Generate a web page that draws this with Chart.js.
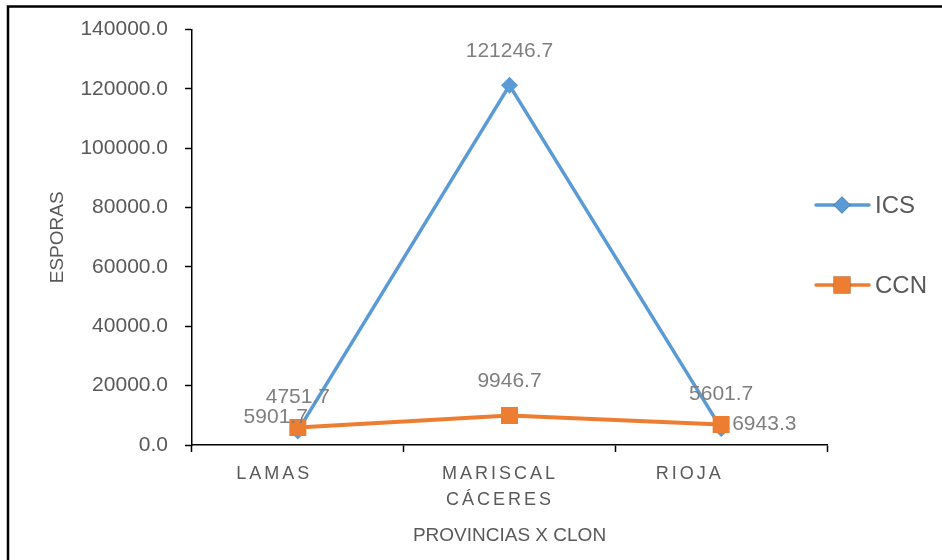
<!DOCTYPE html>
<html>
<head>
<meta charset="utf-8">
<script src="https://cdn.jsdelivr.net/npm/chart.js@4.4.1/dist/chart.umd.min.js"></script>
<style>
  html, body { margin: 0; padding: 0; background: #ffffff; }
  #wrap { width: 942px; height: 560px; position: relative; }
</style>
</head>
<body>
<div id="wrap"><canvas id="chart" width="942" height="560"></canvas></div>
<script>
// Spore counts per province and clone
const categories = ['LAMAS', 'MARISCAL CÁCERES', 'RIOJA'];
const icsValues = [4751.7, 121246.7, 5601.7];
const ccnValues = [5901.7, 9946.7, 6943.3];
const yMin = 0;
const yMax = 140000;
const yStep = 20000;
const seriesNames = ['ICS', 'CCN'];

// Styling
const FONT = '"Liberation Sans", Arial, sans-serif';
const TEXT_GREY = '#595959';
const LABEL_GREY = '#7f7f7f';
const BLUE = '#5b9bd5';
const ORANGE = '#ed7d31';

// where each value label sits relative to its point
const labelPlacement = [
  ['above', 'above', 'above'],
  ['left', 'above', 'right']
];
// horizontal nudge of each category caption relative to its category centre
const captionShift = [-25, -11, -33];

const framePlugin = {
  id: 'frame',
  afterDraw(chart) {
    const ctx = chart.ctx;
    ctx.save();
    ctx.strokeStyle = '#000000';
    ctx.lineWidth = 2.5;
    ctx.beginPath();
    ctx.moveTo(8, chart.height + 5);
    ctx.lineTo(8, 6.5);
    ctx.lineTo(chart.width + 5, 6.5);
    ctx.stroke();
    ctx.restore();
  }
};

const captionPlugin = {
  id: 'captions',
  afterDraw(chart) {
    const ctx = chart.ctx;
    const xs = chart.scales.x;
    ctx.save();
    ctx.font = '18px ' + FONT;
    ctx.fillStyle = TEXT_GREY;
    ctx.textBaseline = 'middle';
    ctx.textAlign = 'left';
    const spacing = 3;
    ctx.letterSpacing = spacing + 'px';
    categories.forEach((cat, i) => {
      const lines = cat.split(' ');
      const cx = xs.getPixelForValue(i) + captionShift[i];
      lines.forEach((line, j) => {
        const w = ctx.measureText(line).width - spacing;
        ctx.fillText(line, cx - w / 2, 474 + j * 26);
      });
    });
    ctx.restore();
  }
};

const valueLabelPlugin = {
  id: 'valueLabels',
  afterDatasetsDraw(chart) {
    const ctx = chart.ctx;
    ctx.save();
    ctx.font = '21px ' + FONT;
    ctx.fillStyle = LABEL_GREY;
    chart.data.datasets.forEach((ds, di) => {
      const meta = chart.getDatasetMeta(di);
      meta.data.forEach((pt, i) => {
        const txt = ds.data[i].toFixed(1);
        const pos = labelPlacement[di][i];
        if (pos === 'above') {
          ctx.textAlign = 'center';
          ctx.textBaseline = 'middle';
          ctx.fillText(txt, pt.x, pt.y - 34);
        } else if (pos === 'left') {
          ctx.textAlign = 'right';
          ctx.textBaseline = 'middle';
          ctx.fillText(txt, pt.x + 10, pt.y - 10);
        } else {
          ctx.textAlign = 'left';
          ctx.textBaseline = 'middle';
          ctx.fillText(txt, pt.x + 11, pt.y);
        }
      });
    });
    ctx.restore();
  }
};

const legendPlugin = {
  id: 'sideLegend',
  afterDraw(chart) {
    const ctx = chart.ctx;
    const rows = [205, 285];
    ctx.save();
    chart.data.datasets.forEach((ds, di) => {
      const y = rows[di];
      ctx.strokeStyle = ds.borderColor;
      ctx.lineWidth = 3.5;
      ctx.lineCap = 'round';
      ctx.beginPath();
      ctx.moveTo(816, y);
      ctx.lineTo(869, y);
      ctx.stroke();
      Chart.helpers.drawPoint(ctx, {
        pointStyle: ds.pointStyle,
        radius: ds.pointRadius,
        borderWidth: 0
      }, 842, y);
      ctx.fillStyle = ds.backgroundColor;
      ctx.fill();
      ctx.fillStyle = TEXT_GREY;
      ctx.font = '24px ' + FONT;
      ctx.textAlign = 'left';
      ctx.textBaseline = 'middle';
      ctx.fillText(ds.label, 875, y + 1);
    });
    ctx.restore();
  }
};

new Chart(document.getElementById('chart'), {
  type: 'line',
  data: {
    labels: categories,
    datasets: [
      {
        label: seriesNames[0],
        data: icsValues,
        borderColor: BLUE,
        backgroundColor: BLUE,
        borderWidth: 3.5,
        pointStyle: 'rectRot',
        pointRadius: 8.5,
        pointBorderWidth: 0,
        pointBackgroundColor: BLUE,
        tension: 0,
        order: 1
      },
      {
        label: seriesNames[1],
        data: ccnValues,
        borderColor: ORANGE,
        backgroundColor: ORANGE,
        borderWidth: 4,
        pointStyle: 'rect',
        pointRadius: 12,
        pointBorderWidth: 0,
        pointBackgroundColor: ORANGE,
        tension: 0,
        order: 0
      }
    ]
  },
  options: {
    responsive: false,
    animation: false,
    devicePixelRatio: 1,
    layout: { padding: { left: 0, top: 26, right: 115, bottom: 0 } },
    plugins: {
      legend: { display: false },
      tooltip: { enabled: false }
    },
    scales: {
      x: {
        offset: true,
        grid: {
          offset: true,
          drawOnChartArea: false,
          drawTicks: true,
          tickLength: 7,
          tickWidth: 1.5,
          tickColor: '#000000'
        },
        border: { display: true, color: '#000000', width: 1.5 },
        ticks: { display: false },
        title: {
          display: true,
          text: 'PROVINCIAS X CLON',
          color: TEXT_GREY,
          font: { family: FONT, size: 19 },
          padding: { top: 0, bottom: 13 }
        },
        afterFit(scale) { scale.height = 115; }
      },
      y: {
        min: yMin,
        max: yMax,
        grid: {
          drawOnChartArea: false,
          drawTicks: true,
          tickLength: 7,
          tickWidth: 1.5,
          tickColor: '#000000'
        },
        border: { display: true, color: '#000000', width: 1.5 },
        ticks: {
          stepSize: yStep,
          color: TEXT_GREY,
          padding: 17,
          font: { family: FONT, size: 21 },
          callback: (v) => Number(v).toFixed(1)
        },
        title: {
          display: true,
          text: 'ESPORAS',
          color: TEXT_GREY,
          font: { family: FONT, size: 19 },
          padding: { top: 46, bottom: 0 }
        },
        afterFit(scale) { scale.width = 192; }
      }
    }
  },
  plugins: [valueLabelPlugin, captionPlugin, legendPlugin, framePlugin]
});
</script>
</body>
</html>
